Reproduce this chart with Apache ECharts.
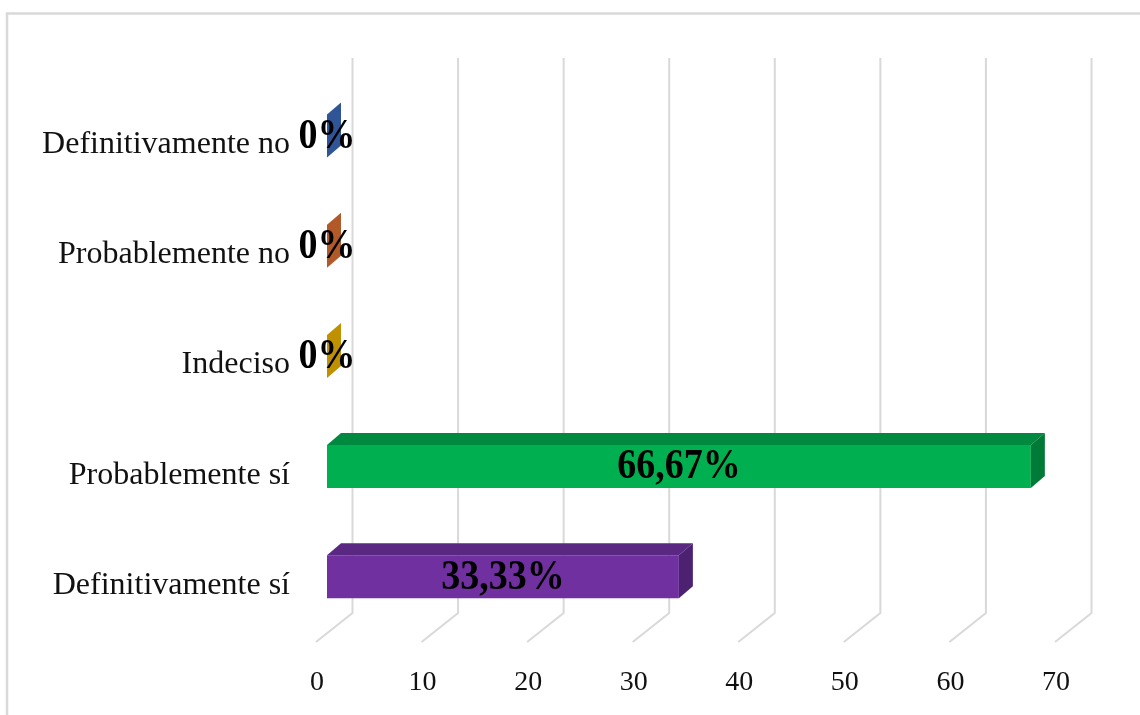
<!DOCTYPE html>
<html>
<head>
<meta charset="utf-8">
<script src="https://cdn.jsdelivr.net/npm/echarts@6/dist/echarts.min.js"></script>
<style>
html,body{margin:0;padding:0;background:#fff;}
#main{width:1140px;height:715px;}
</style>
</head>
<body>
<div id="main"></div>
<script>
// ---- data ----
const categories = ['Definitivamente sí', 'Probablemente sí', 'Indeciso', 'Probablemente no', 'Definitivamente no'];
const values = [33.33, 66.67, 0, 0, 0];
const valueLabels = ['33,33%', '66,67%', '0%', '0%', '0%'];
const xTicks = [0, 10, 20, 30, 40, 50, 60, 70];

// ---- styles ----
const palette = [
  { front: '#7030A0', top: '#5A2783', side: '#4D2171' },
  { front: '#00B050', top: '#00893F', side: '#007A37' },
  { front: '#C09000', top: '#A67D00', side: '#BF9000' },
  { front: '#C55A11', top: '#A94D0F', side: '#B2592A' },
  { front: '#4472C4', top: '#3A62A8', side: '#2F5597' }
];
const SERIF = '"Liberation Serif", "Times New Roman", serif';
const DX = 14, DY = 12, H = 43, SHIFT = 8.5;
const BACK_DX = 25.5, FRONT_DX = -11;

const chart = echarts.init(document.getElementById('main'));
chart.setOption({
  animation: false,
  backgroundColor: '#fff',
  graphic: [{
    type: 'rect', z: -10,
    shape: { x: 7, y: 13.5, width: 1160, height: 730 },
    style: { fill: 'none', stroke: '#D9D9D9', lineWidth: 2.5 }
  }],
  grid: { left: 327, width: 739, top: 89.4, height: 551 },
  xAxis: {
    type: 'value', min: 0, max: 70, interval: 10,
    axisLine: { show: false }, axisTick: { show: false }, splitLine: { show: false },
    axisLabel: { fontSize: 28, fontFamily: SERIF, color: '#111', margin: 28, padding: [0, 20, 0, 0] }
  },
  yAxis: {
    type: 'category', data: categories,
    axisLine: { show: false }, axisTick: { show: false }, splitLine: { show: false },
    axisLabel: { fontSize: 32, fontFamily: SERIF, color: '#111', margin: 37 }
  },
  series: [
    {
      type: 'custom', z: 1, silent: true,
      data: xTicks.map(t => [t, 0]),
      encode: { x: 0, y: 1 },
      renderItem: function (params, api) {
        const x = api.coord([api.value(0), 0])[0];
        return {
          type: 'polyline',
          shape: { points: [[x + BACK_DX, 58], [x + BACK_DX, 613], [x + FRONT_DX, 642]] },
          style: { stroke: '#D9D9D9', lineWidth: 2, fill: 'none' }
        };
      }
    },
    {
      type: 'custom', z: 5,
      data: values.map((v, i) => [v, i]),
      encode: { x: 0, y: 1 },
      renderItem: function (params, api) {
        const v = api.value(0), c = api.value(1);
        const p0 = api.coord([0, c]);
        const p1 = api.coord([v, c]);
        const x0 = p0[0], x1 = p1[0];
        const yc = p0[1] - SHIFT;
        const yt = yc - H / 2, yb = yc + H / 2;
        const col = palette[params.dataIndex];
        const children = [];
        if (x1 - x0 > 0.5) {
          children.push({ type: 'rect', shape: { x: x0, y: yt, width: x1 - x0, height: H }, style: { fill: col.front } });
          children.push({ type: 'polygon', shape: { points: [[x0, yt], [x1, yt], [x1 + DX, yt - DY], [x0 + DX, yt - DY]] }, style: { fill: col.top } });
        }
        children.push({ type: 'polygon', shape: { points: [[x1, yt], [x1 + DX, yt - DY], [x1 + DX, yb - DY], [x1, yb]] }, style: { fill: col.side } });
        const cx = (x0 + x1) / 2, cy = yc + 1;
        children.push({
          type: 'text',
          x: cx, y: cy, scaleY: 1.1,
          style: {
            x: 0, y: 0,
            text: valueLabels[params.dataIndex],
            fontSize: 38, fontWeight: 'bold', fontFamily: SERIF,
            fill: '#000', align: 'center', verticalAlign: 'middle'
          }
        });
        return { type: 'group', children: children };
      }
    }
  ]
});
</script>
</body>
</html>
